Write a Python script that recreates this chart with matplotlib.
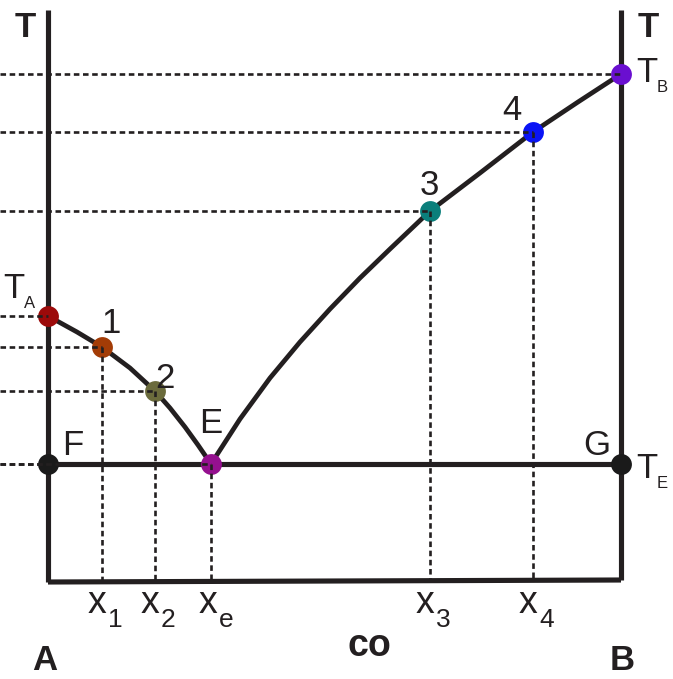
import numpy as np
import matplotlib
matplotlib.use("Agg")
import matplotlib.pyplot as plt

plt.rcParams['font.family'] = ['Liberation Sans', 'DejaVu Sans']
plt.rcParams['lines.scale_dashes'] = False

# diagram coordinates (composition left->right, temperature top->bottom)
xA, xB = 48, 621
y_top, y_bot = 10, 582
T_E = 464

# liquidus points: T_A, 1, 2, E, 3, 4, T_B
pt_names = ['TA', '1', '2', 'E', '3', '4', 'TB']
pt_x = [48, 102, 155, 211, 430, 533, 621]
pt_T = [316, 347, 391, 464, 211, 132, 74]
pt_col = ['#9c0a0a', '#a33c06', '#6b6b3c', '#95108f', '#0b7f7b', '#0a14f5', '#6a0fd0']

# curve traces
left_x = [48, 77, 102, 130, 155, 170, 185, 198, 211]
left_T = [316, 332, 347, 368, 391, 408, 427, 445, 464]
right_x = [211, 240, 270, 300, 330, 360, 390, 430, 480, 533, 578, 621]
right_T = [464, 419, 378, 342, 309, 278, 249, 211, 173, 132, 102, 74]

# x-axis compositions with dashed drop lines
drop_idx = [1, 2, 3, 4, 5]
drop_sub = ['1', '2', 'e', '3', '4']

ink = '#231f20'
fig = plt.figure(figsize=(6.73, 6.79), dpi=100)
ax = fig.add_axes([0, 0, 1, 1])
ax.set_xlim(0, 673)
ax.set_ylim(679, 0)
ax.axis('off')

lw = 3.7
# frame
ax.plot([xA, xA], [y_top, y_bot], color=ink, lw=lw, solid_capstyle='butt', zorder=2)
ax.plot([xB, xB], [y_top, y_bot - 2], color=ink, lw=lw, solid_capstyle='butt', zorder=2)
ax.plot([xA, xB], [y_bot, y_bot - 2], color=ink, lw=lw, solid_capstyle='butt', zorder=2)
# eutectic line F-G
ax.plot([xA, xB], [T_E, T_E], color=ink, lw=lw, zorder=2)
# liquidus
ax.plot(left_x, left_T, color=ink, lw=3.4, solid_joinstyle='round', zorder=2)
ax.plot(right_x, right_T, color=ink, lw=3.4, solid_joinstyle='round', zorder=2)

dash = dict(color=ink, lw=1.9, dashes=(4.0, 2.6), zorder=4)
for x, t in zip(pt_x, pt_T):
    ax.plot([0, x], [t, t], **dash)
ax.plot([0, xA], [T_E, T_E], **dash)
for i in drop_idx:
    ax.plot([pt_x[i], pt_x[i]], [pt_T[i], y_bot - 2], **dash)

for x, t, c in zip(pt_x, pt_T, pt_col):
    ax.plot(x, t, 'o', ms=15, color=c, mec='none', zorder=3)
ax.plot([xA, xB], [T_E, T_E], 'o', ms=15, color='#1a1a1a', mec='none', zorder=3, lw=0)

fs = 25
# axis titles
ax.text(25, 37, 'T', fontsize=fs, fontweight='bold', ha='center', va='baseline', color=ink)
ax.text(648, 37, 'T', fontsize=fs, fontweight='bold', ha='center', va='baseline', color=ink)
ax.text(45, 670, 'A', fontsize=fs, fontweight='bold', ha='center', va='baseline', color=ink)
ax.text(622, 670, 'B', fontsize=fs, fontweight='bold', ha='center', va='baseline', color=ink)
ax.text(369, 656, 'со', fontsize=27, fontweight='bold', ha='center', va='baseline', color=ink)
ax.text(287, 702, 'став', fontsize=27, fontweight='bold', ha='left', va='baseline', color=ink)

# temperature labels with subscripts
def tlabel(x, y, sub):
    ax.text(x, y, 'T', fontsize=fs, ha='left', va='baseline', color=ink)
    ax.text(x + 21, y + 10, sub, fontsize=12, ha='left', va='baseline', color=ink)

tlabel(3, 298, 'A')
tlabel(636, 82, 'B')
tlabel(636, 478, 'E')

# point numbers
for txt, x, y in [('1', 111, 333), ('2', 165, 388), ('E', 211, 433), ('F', 73, 455),
                  ('G', 597, 455), ('3', 429, 195), ('4', 512, 120)]:
    ax.text(x, y, txt, fontsize=fs, ha='center', va='baseline', color=ink)

# composition labels
for i, s in zip(drop_idx, drop_sub):
    xc = pt_x[i] - (3 if s == 'e' else 5)
    ax.text(xc, 613, 'x', fontsize=27, ha='center', va='baseline', color=ink)
    ax.text(xc + 11, 627, s, fontsize=19, ha='left', va='baseline', color=ink)

fig.savefig('out.png', dpi=100)
